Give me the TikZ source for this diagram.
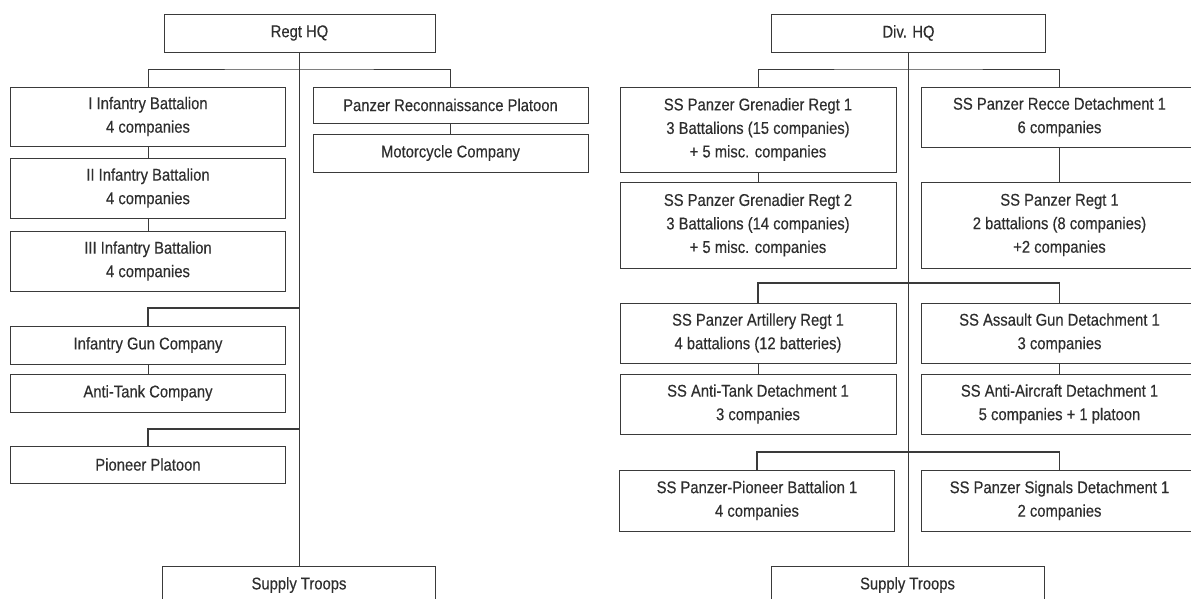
\documentclass[tikz,border=0pt]{standalone}
\usepackage{fontspec}
\setmainfont{Liberation Sans}[FakeStretch=0.87,FakeBold=0.3]
\definecolor{ink}{HTML}{2E2E2E}
\definecolor{linec}{HTML}{3A3A3A}
\begin{document}
\begin{tikzpicture}[x=1pt,y=-1pt,
  box/.style={draw=linec,line width=0.9pt,fill=white,inner sep=0pt,align=center,text=ink,
    font=\fontsize{17}{23.5}\selectfont},
  conn/.style={draw=linec,line width=0.9pt},
  bar/.style={draw=linec,line width=1.3pt}]
\fill[white] (0,0) rectangle (1191,599);
\useasboundingbox (0,0) rectangle (1191,599);
% ---------- left chart ----------
\node[box,minimum width=271pt,minimum height=38pt] (regt) at (299.5,33) {Regt HQ};
\node[box,minimum width=275pt,minimum height=59pt] (ib1) at (148,116.5) {I Infantry Battalion\\4 companies};
\node[box,minimum width=275pt,minimum height=36pt] (pzr) at (450.5,105) {Panzer Reconnaissance Platoon};
\node[box,minimum width=275pt,minimum height=38pt] (mc) at (450.5,153) {Motorcycle Company};
\node[box,minimum width=275pt,minimum height=60pt] (ib2) at (148,188) {II Infantry Battalion\\4 companies};
\node[box,minimum width=275pt,minimum height=60pt] (ib3) at (148,261) {III Infantry Battalion\\4 companies};
\node[box,minimum width=275pt,minimum height=38pt] (igc) at (148,345) {Infantry Gun Company};
\node[box,minimum width=275pt,minimum height=38pt] (atc) at (148,393) {Anti-Tank Company};
\node[box,minimum width=275pt,minimum height=37pt] (pio) at (148,464.5) {Pioneer Platoon};
\node[box,minimum width=273pt,minimum height=38pt] (sup1) at (299,585) {Supply Troops};
\coordinate (lb1) at (299,69);
\coordinate (lb2) at (299,308);
\coordinate (lb3) at (299,429);
\draw[conn] (regt.south) -- (regt.south |- sup1.north);
\draw[conn] (ib1.north) |- (lb1) -| (pzr.north);
\draw[conn] (ib1.south) -- (ib2.north);
\draw[conn] (ib2.south) -- (ib3.north);
\draw[conn] (pzr.south) -- (mc.north);
\draw[bar] (igc.north) |- (lb2);
\draw[conn] (igc.south) -- (atc.north);
\draw[bar] (pio.north) |- (lb3);
% ---------- right chart ----------
\node[box,minimum width=274pt,minimum height=38pt] (div) at (908.5,33) {Div. HQ};
\node[box,minimum width=276pt,minimum height=85pt] (g1) at (758,129.5) {SS Panzer Grenadier Regt 1\\3 Battalions (15 companies)\\+ 5 misc. companies};
\node[box,minimum width=276pt,minimum height=60pt] (rec) at (1059.5,117) {SS Panzer Recce Detachment 1\\6 companies};
\node[box,minimum width=276pt,minimum height=86pt] (g2) at (758,225) {SS Panzer Grenadier Regt 2\\3 Battalions (14 companies)\\+ 5 misc. companies};
\node[box,minimum width=276pt,minimum height=86pt] (pzregt) at (1059.5,225) {SS Panzer Regt 1\\2 battalions (8 companies)\\+2 companies};
\node[box,minimum width=276pt,minimum height=60pt] (art) at (758,333) {SS Panzer Artillery Regt 1\\4 battalions (12 batteries)};
\node[box,minimum width=276pt,minimum height=60pt] (asg) at (1059.5,333) {SS Assault Gun Detachment 1\\3 companies};
\node[box,minimum width=276pt,minimum height=60pt] (atd) at (758,404) {SS Anti-Tank Detachment 1\\3 companies};
\node[box,minimum width=276pt,minimum height=60pt] (aad) at (1059.5,404) {SS Anti-Aircraft Detachment 1\\5 companies + 1 platoon};
\node[box,minimum width=275pt,minimum height=61pt] (pbn) at (757,500.5) {SS Panzer-Pioneer Battalion 1\\4 companies};
\node[box,minimum width=276pt,minimum height=61pt] (sig) at (1059.5,500.5) {SS Panzer Signals Detachment 1\\2 companies};
\node[box,minimum width=273pt,minimum height=38pt] (sup2) at (907.5,585) {Supply Troops};
\coordinate (rb1) at (908,69);
\coordinate (rb2) at (908,283);
\coordinate (rb3) at (908,452);
\draw[conn] (div.south) -- (div.south |- sup2.north);
\draw[conn] (g1.north) |- (rb1) -| (rec.north);
\draw[conn] (g1.south) -- (g2.north);
\draw[conn] (rec.south) -- (pzregt.north);
\draw[bar] (art.north) |- (rb2) -| (asg.north);
\draw[conn] (art.south) -- (atd.north);
\draw[conn] (asg.south) -- (aad.north);
\draw[bar] (pbn.north) |- (rb3) -| (sig.north);
\end{tikzpicture}
\end{document}
